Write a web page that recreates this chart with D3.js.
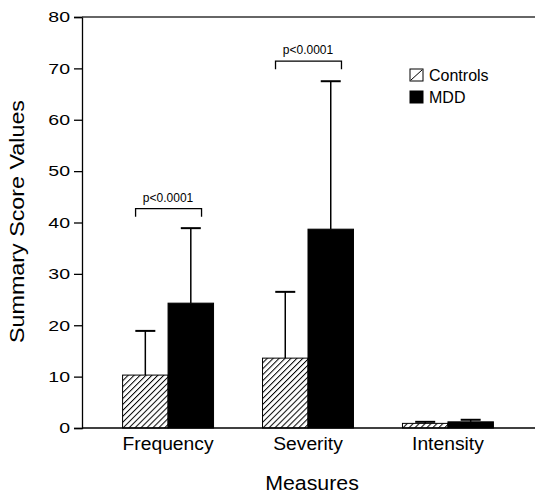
<!DOCTYPE html>
<html>
<head>
<meta charset="utf-8">
<script src="https://cdn.jsdelivr.net/npm/d3@7"></script>
<style>
  body { margin: 0; background: #fff; }
  svg { font-family: "Liberation Sans", Arial, Helvetica, sans-serif; }
</style>
</head>
<body>
<svg width="535" height="495"></svg>
<script>
const measures = ["Frequency", "Severity", "Intensity"];
const groups = ["Controls", "MDD"];
const controlsMean = [10.3, 13.6, 0.9];
const controlsSD = [8.6, 12.9, 0.3];
const mddMean = [24.3, 38.7, 1.2];
const mddSD = [14.6, 28.8, 0.4];
const yTicks = [0, 10, 20, 30, 40, 50, 60, 70, 80];
const brackets = [
  { measure: "Frequency", value: 42.7, label: "p<0.0001" },
  { measure: "Severity", value: 71.4, label: "p<0.0001" },
];

const svg = d3.select("svg");
const width = 535;
const height = 495;
const margin = { top: 17, right: 1, bottom: 67, left: 82 };

// the source lettering is a little wider than Liberation Sans
function stretch(sel, factor) {
  sel.each(function () {
    const w = this.getComputedTextLength();
    this.setAttribute("textLength", w * factor);
    this.setAttribute("lengthAdjust", "spacingAndGlyphs");
  });
}

const x = d3.scaleBand()
  .domain(measures)
  .range([margin.left, width - margin.right])
  .paddingInner(0.35)
  .paddingOuter(0.29);

const xSub = d3.scaleBand()
  .domain(groups)
  .range([0, x.bandwidth()]);

const y = d3.scaleLinear()
  .domain([0, 80])
  .range([height - margin.bottom, margin.top]);

// hatch pattern for controls
const defs = svg.append("defs");
const pat = defs.append("pattern")
  .attr("id", "hatch")
  .attr("patternUnits", "userSpaceOnUse")
  .attr("width", 4.2)
  .attr("height", 4.2)
  .attr("patternTransform", "rotate(45)");
pat.append("rect").attr("width", 4.2).attr("height", 4.2).attr("fill", "#fff");
pat.append("line")
  .attr("x1", 0.5).attr("y1", 0).attr("x2", 0.5).attr("y2", 4.2)
  .attr("stroke", "#000").attr("stroke-width", 1);

const rows = measures.map((m, i) => ({
  measure: m,
  bars: [
    { group: "Controls", mean: controlsMean[i], sd: controlsSD[i] },
    { group: "MDD", mean: mddMean[i], sd: mddSD[i] },
  ],
}));

// y axis
const yAxis = d3.axisLeft(y).tickValues(yTicks).tickSize(8).tickPadding(4);
svg.append("g")
  .attr("transform", `translate(${margin.left},0)`)
  .call(yAxis)
  .attr("font-size", null)
  .attr("font-family", null)
  .call(g => g.select(".domain").attr("stroke", "#000").attr("stroke-width", 1.3))
  .call(g => g.selectAll(".tick line").attr("stroke", "#000").attr("stroke-width", 1.3))
  .call(g => g.selectAll(".tick text")
    .style("font-size", "15px")
    .attr("fill", "#000")
    .call(stretch, 1.3));

// top line
svg.append("line")
  .attr("x1", margin.left).attr("x2", width)
  .attr("y1", y(80)).attr("y2", y(80))
  .attr("stroke", "#333").attr("stroke-width", 1.5);

// bars
const gGroup = svg.append("g").selectAll("g.measure")
  .data(rows)
  .join("g")
  .attr("class", "measure")
  .attr("transform", d => `translate(${x(d.measure)},0)`);

// error bars (upward only)
gGroup.selectAll("g.err")
  .data(d => d.bars)
  .join("g")
  .attr("class", "err")
  .each(function (d) {
    const g = d3.select(this);
    const cx = xSub(d.group) + xSub.bandwidth() / 2;
    g.append("line")
      .attr("x1", cx).attr("x2", cx)
      .attr("y1", y(d.mean)).attr("y2", y(d.mean + d.sd))
      .attr("stroke", "#000").attr("stroke-width", 1.5);
    g.append("line")
      .attr("x1", cx - 10).attr("x2", cx + 10)
      .attr("y1", y(d.mean + d.sd)).attr("y2", y(d.mean + d.sd))
      .attr("stroke", "#000").attr("stroke-width", 2);
  });

gGroup.selectAll("rect")
  .data(d => d.bars)
  .join("rect")
  .attr("x", d => xSub(d.group))
  .attr("y", d => y(d.mean))
  .attr("width", xSub.bandwidth())
  .attr("height", d => y(0) - y(d.mean))
  .attr("fill", d => d.group === "Controls" ? "url(#hatch)" : "#000")
  .attr("stroke", "#000")
  .attr("stroke-width", 1);

// baseline
svg.append("line")
  .attr("x1", margin.left).attr("x2", width)
  .attr("y1", y(0)).attr("y2", y(0))
  .attr("stroke", "#000").attr("stroke-width", 1.3);

// x labels
svg.append("g").selectAll("text")
  .data(measures)
  .join("text")
  .attr("x", d => x(d) + x.bandwidth() / 2)
  .attr("y", y(0) + 22)
  .attr("text-anchor", "middle")
  .attr("font-size", 18)
  .text(d => d)
  .call(stretch, 1.07);

// significance brackets
const br = svg.append("g").selectAll("g")
  .data(brackets)
  .join("g");
br.append("path")
  .attr("d", d => {
    const x0 = x(d.measure) + 13;
    const x1 = x(d.measure) + x.bandwidth() - 12;
    const yb = y(d.value);
    return `M${x0},${yb + 8}V${yb}H${x1}V${yb + 8}`;
  })
  .attr("fill", "none")
  .attr("stroke", "#000")
  .attr("stroke-width", 1.3);
br.append("text")
  .attr("x", d => x(d.measure) + x.bandwidth() / 2)
  .attr("y", d => y(d.value) - 7)
  .attr("text-anchor", "middle")
  .attr("font-size", 12)
  .text(d => d.label);

// axis titles
svg.append("text")
  .attr("transform", `translate(24,${(y(0) + y(80)) / 2 - 1}) rotate(-90)`)
  .attr("text-anchor", "middle")
  .attr("font-size", 20)
  .attr("textLength", 243)
  .attr("lengthAdjust", "spacingAndGlyphs")
  .text("Summary Score Values");

svg.append("text")
  .attr("x", 312)
  .attr("y", 490)
  .attr("text-anchor", "middle")
  .attr("font-size", 20.5)
  .text("Measures")
  .call(stretch, 1.04);

// legend
const legend = svg.append("g").attr("transform", "translate(410,69)");
const lg = legend.selectAll("g")
  .data(groups)
  .join("g")
  .attr("transform", (d, i) => `translate(0,${i * 22})`);
lg.append("rect")
  .attr("width", 13).attr("height", 12)
  .attr("fill", d => d === "Controls" ? "#fff" : "#000")
  .attr("stroke", "#000").attr("stroke-width", 1);
lg.filter(d => d === "Controls").append("line")
  .attr("x1", 1).attr("y1", 11).attr("x2", 12).attr("y2", 1)
  .attr("stroke", "#000").attr("stroke-width", 1);
lg.append("text")
  .attr("x", 19).attr("y", 12)
  .attr("font-size", 16)
  .text(d => d);
</script>
</body>
</html>
